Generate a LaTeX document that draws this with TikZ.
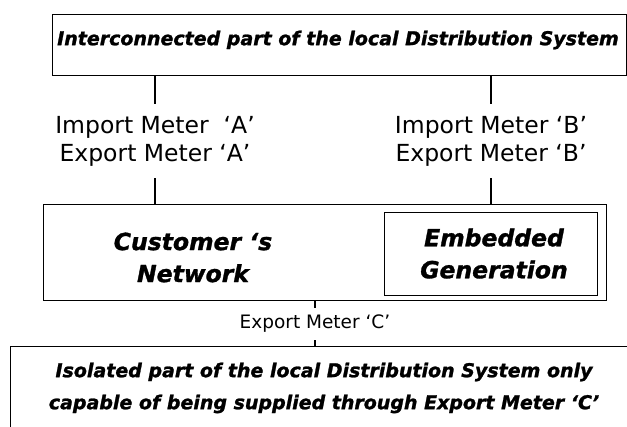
\documentclass[tikz,border=0pt]{standalone}
\usepackage{fontspec}
\setmainfont{DejaVu Sans}[BoldFont={DejaVu Sans Bold},ItalicFont={DejaVu Sans Oblique},BoldItalicFont={DejaVu Sans Bold Oblique},BoldItalicFeatures={FakeBold=1.3}]
\begin{document}
\begin{tikzpicture}[x=1pt,y=-1pt,
  box/.style={draw, line width=1.3pt, inner sep=0pt, anchor=north west},
  wire/.style={draw, line width=1.1pt},
  bi/.style={font=\fontsize{19}{32}\selectfont\bfseries\itshape, align=center, inner sep=0pt},
  big/.style={font=\fontsize{23.5}{32}\selectfont\bfseries\itshape, align=center, inner sep=0pt},
  meter/.style={font=\fontsize{23.5}{28}\selectfont, align=center, inner sep=0pt},
  meterc/.style={font=\fontsize{18.5}{22}\selectfont, align=center, inner sep=0pt}]
\useasboundingbox (0,0) rectangle (627,427);
\clip (0,0) rectangle (627,427);
% boxes
\node[box, minimum width=574pt, minimum height=61pt] (top) at (52,14) {};
\node[box, minimum width=563pt, minimum height=96pt] (cust) at (43,204) {};
\node[box, minimum width=213pt, minimum height=83pt] (emb) at (384,212) {};
\node[box, minimum width=700pt, minimum height=200pt] (iso) at (10,346) {};
% texts
\node[bi] (toptxt) at (338,40) {Interconnected part of the local Distribution System};
\node[big] (custtxt) at (193,257.5) {Customer ‘s\\Network};
\node[big] (embtxt) at (494,253.5) {Embedded\\Generation};
\node[bi] (isotxt) at (324,388) {Isolated part of the local Distribution System only\\capable of being supplied through Export Meter ‘C’};
% meters
\node[meter, minimum height=74pt] (ma) at (155,141) {Import Meter \ ‘A’\\Export Meter ‘A’};
\node[meter, minimum height=74pt] (mb) at (491,141) {Import Meter ‘B’\\Export Meter ‘B’};
\node[meterc, minimum height=32pt] (mc) at (315,324) {Export Meter ‘C’};
% connectors
\draw[wire] (top.south -| ma.north) -- (ma.north);
\draw[wire] (ma.south) -- (cust.north -| ma.south);
\draw[wire] (top.south -| mb.north) -- (mb.north);
\draw[wire] (mb.south) -- (cust.north -| mb.south);
\draw[wire] (cust.south -| mc.north) -- (mc.north);
\draw[wire] (mc.south) -- (iso.north -| mc.south);
\end{tikzpicture}
\end{document}
